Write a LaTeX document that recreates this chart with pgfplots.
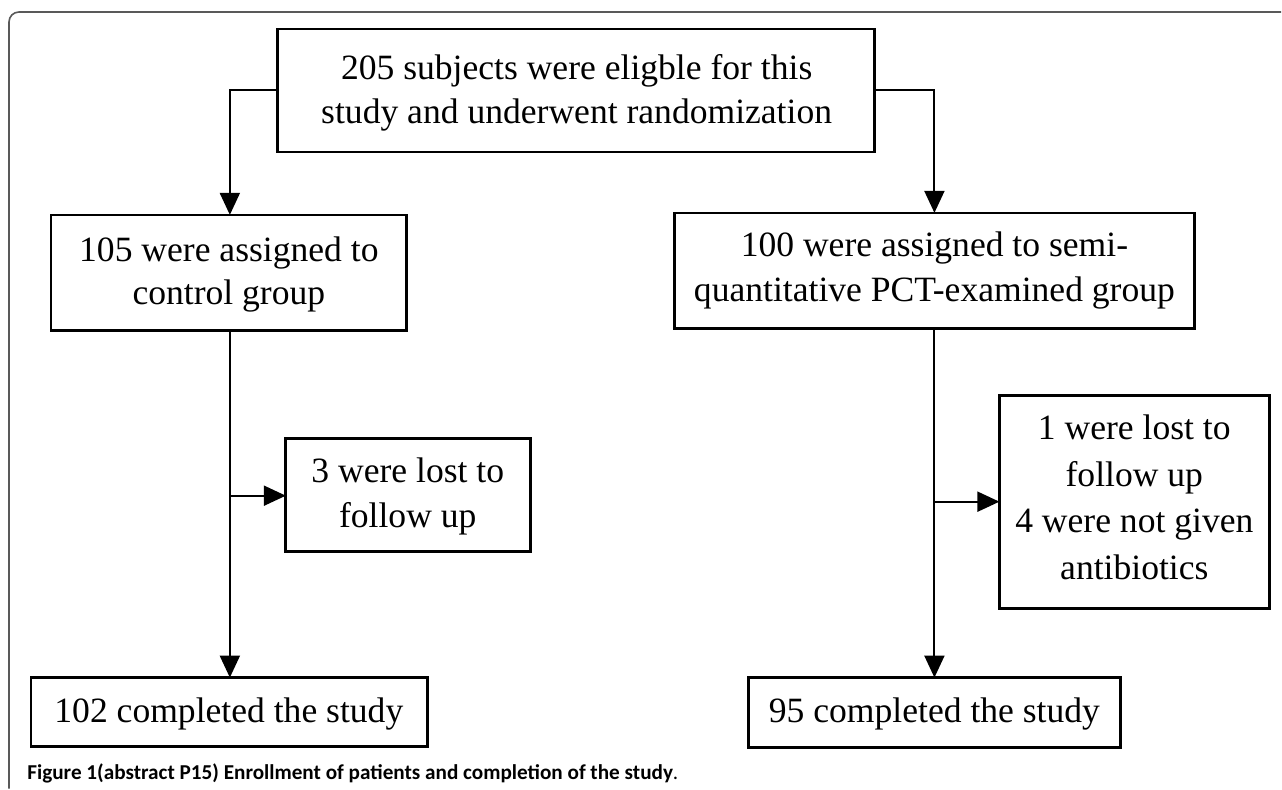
\documentclass[border=0pt]{standalone}
\usepackage{pgfplots}
\pgfplotsset{compat=1.18}
\usetikzlibrary{arrows.meta}
\usepackage{fontspec}
\setmainfont{Liberation Serif}
\newfontfamily\capfont{Carlito}
\tikzset{
  boxline/.style={line width=1.35pt,line cap=rect,line join=miter},
  conn/.style={line width=1pt,-{Triangle[width=10pt,length=11pt]}},
  txt/.style={anchor=base,inner sep=0pt,font=\fontsize{17.8}{21}\selectfont}}
\begin{document}
\begin{tikzpicture}
\begin{axis}[width=641pt,height=394.5pt,scale only axis,
  xmin=0,xmax=1282,ymin=0,ymax=789,y dir=reverse,
  axis lines=none,clip=false,enlargelimits=false,
  every axis plot/.append style={black,no markers}]
\addplot[draw=none] coordinates {(0,0) (1282,789)};
% outer frame
\addplot[color=black!65, line width=0.8pt, rounded corners=5pt] coordinates {(9,789) (9,12) (1282,12)};
% boxes
\addplot[boxline] coordinates {(278,29) (875,29) (875,152) (278,152) (278,29)};
\addplot[boxline] coordinates {(51,215) (407,215) (407,331) (51,331) (51,215)};
\addplot[boxline] coordinates {(675,213) (1195,213) (1195,329) (675,329) (675,213)};
\addplot[boxline] coordinates {(286,439) (531,439) (531,552) (286,552) (286,439)};
\addplot[boxline] coordinates {(1000,396) (1270,396) (1270,609) (1000,609) (1000,396)};
\addplot[boxline] coordinates {(31,678) (428,678) (428,747) (31,747) (31,678)};
\addplot[boxline] coordinates {(749,678) (1121,678) (1121,748) (749,748) (749,678)};
% connectors
\addplot[conn] coordinates {(278,90) (230,90) (230,215)};
\addplot[conn] coordinates {(875,90) (935,90) (935,213)};
\addplot[conn] coordinates {(230,331) (230,678)};
\addplot[conn] coordinates {(230,496) (286,496)};
\addplot[conn] coordinates {(935,329) (935,678)};
\addplot[conn] coordinates {(935,502) (1000,502)};
% texts
\node[txt] at (axis cs:577,80) {205 subjects were eligble for this};
\node[txt] at (axis cs:577,124) {study and underwent randomization};
\node[txt] at (axis cs:229,262) {105 were assigned to};
\node[txt] at (axis cs:229,305) {control group};
\node[txt] at (axis cs:935,257) {100 were assigned to semi-};
\node[txt] at (axis cs:935,302) {quantitative PCT-examined group};
\node[txt] at (axis cs:408,483) {3 were lost to};
\node[txt] at (axis cs:408,528) {follow up};
\node[txt] at (axis cs:1135,440) {1 were lost to};
\node[txt] at (axis cs:1135,487) {follow up};
\node[txt] at (axis cs:1135,533) {4 were not given};
\node[txt] at (axis cs:1135,580) {antibiotics};
\node[txt] at (axis cs:229,723) {102 completed the study};
\node[txt] at (axis cs:935,723) {95 completed the study};
\node[anchor=base west,inner sep=0pt,font=\capfont\bfseries\fontsize{10.6}{12}\selectfont] at (axis cs:27,780) {Figure 1(abstract P15) Enrollment of patients and completion of the study{\mdseries.}};
\end{axis}
\end{tikzpicture}
\end{document}
